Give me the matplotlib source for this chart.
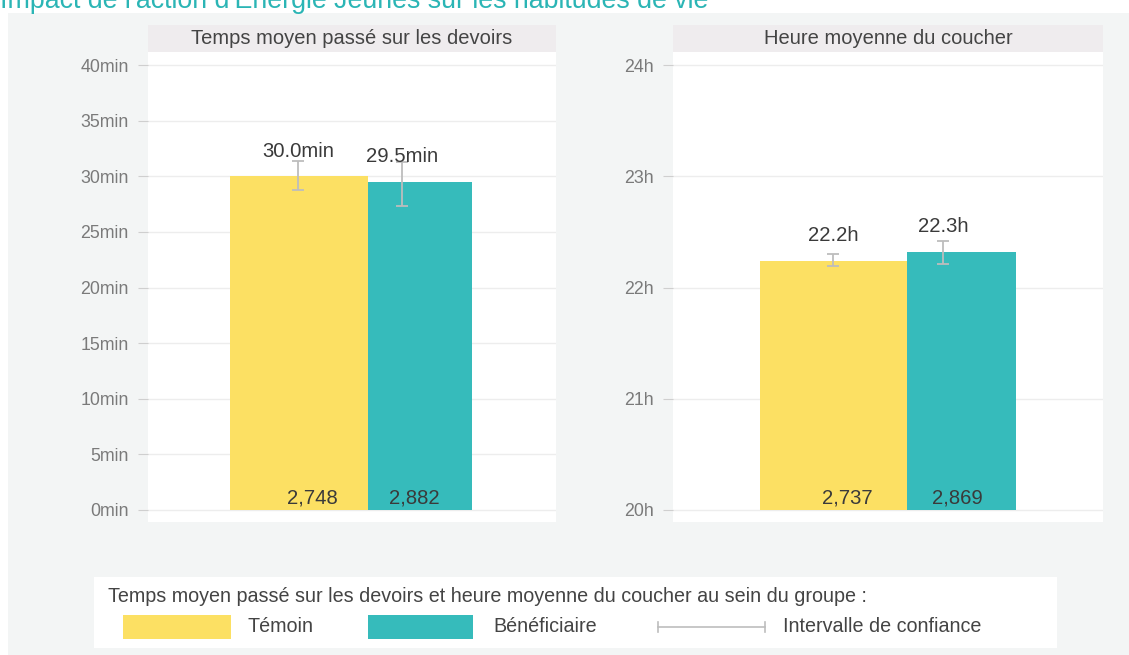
import matplotlib
matplotlib.use("Agg")
import matplotlib.pyplot as plt
from matplotlib.patches import Rectangle
from matplotlib.lines import Line2D

plt.rcParams['font.family'] = ['Liberation Sans', 'DejaVu Sans']

# ---------------- data ----------------
groups = ["Témoin", "Bénéficiaire"]
homework_mean = [30.0, 29.5]          # minutes
homework_ci_low = [28.8, 27.3]
homework_ci_high = [31.4, 31.3]
homework_n = ["2,748", "2,882"]
homework_ticks = [0, 5, 10, 15, 20, 25, 30, 35, 40]
homework_ticklabels = ["0min", "5min", "10min", "15min", "20min", "25min", "30min", "35min", "40min"]

bedtime_mean = [22.24, 22.32]         # hours
bedtime_ci_low = [22.19, 22.21]
bedtime_ci_high = [22.30, 22.42]
bedtime_n = ["2,737", "2,869"]
bedtime_ticks = [20, 21, 22, 23, 24]
bedtime_ticklabels = ["20h", "21h", "22h", "23h", "24h"]

panel_titles = ["Temps moyen passé sur les devoirs", "Heure moyenne du coucher"]
main_title = "Impact de l'action d'Energie Jeunes sur les habitudes de vie"
legend_title = "Temps moyen passé sur les devoirs et heure moyenne du coucher au sein du groupe :"
ci_label = "Intervalle de confiance"

# ---------------- style ----------------
W, H = 1129, 655
YELLOW = "#FCE063"
TEAL = "#36BBBB"
BG = "#F3F5F5"
STRIP = "#EFECEE"
GRID = "#EDEDED"
ERR = "#BDBDBD"
TICKC = "#7A7A7A"
TXT = "#3A3A3A"

fig = plt.figure(figsize=(W / 100, H / 100), dpi=100)
fig.patch.set_facecolor("white")


def px_rect(x0, y0, x1, y1):
    """pixel box (top-left origin) -> figure fraction [l, b, w, h]"""
    return [x0 / W, 1 - y1 / H, (x1 - x0) / W, (y1 - y0) / H]


def fx(x):
    return x / W


def fy(y):
    return 1 - y / H


# outer grey panel
fig.add_artist(Rectangle((fx(8), 0), 1 - fx(8), fy(13), transform=fig.transFigure,
                         facecolor=BG, edgecolor="none", zorder=-10))

# main title (cut off at the top, as in the reference)
fig.text(fx(0), fy(8), main_title, color="#2BB5B5", fontsize=19.3,
         ha="left", va="baseline")


def make_panel(box, ylim, ticks, ticklabels, means, lo, hi, counts, fmt,
               bar_edges, err_x, count_x, title, strip_top):
    x0, y0, x1, y1 = box
    ax = fig.add_axes(px_rect(x0, y0, x1, y1))
    ax.set_facecolor("white")
    ax.set_xlim(0, x1 - x0)
    ax.set_ylim(*ylim)
    for s in ax.spines.values():
        s.set_visible(False)
    ax.set_xticks([])
    ax.set_yticks(ticks)
    ax.set_yticklabels(ticklabels)
    ax.tick_params(axis="y", length=7, width=0.8, color="#CFCFCF", pad=7,
                   labelsize=12.8, labelcolor=TICKC)
    ax.yaxis.grid(True, color=GRID, linewidth=1)
    ax.set_axisbelow(True)
    base = ticks[0]
    colors = [YELLOW, TEAL]
    for i in range(2):
        l, r = bar_edges[i]
        ax.bar(l, means[i] - base, width=r - l, bottom=base, align="edge",
               color=colors[i], edgecolor="none", zorder=2)
        ax.errorbar(err_x[i], means[i],
                    yerr=[[means[i] - lo[i]], [hi[i] - means[i]]],
                    fmt="none", ecolor=ERR, elinewidth=1.3, capsize=4,
                    capthick=1.3, zorder=4)
        ax.annotate(fmt(means[i]), xy=(err_x[i], means[i]), xytext=(0, 14),
                    textcoords="offset points", ha="center", va="baseline",
                    fontsize=14.6, color=TXT, zorder=5)
        ax.annotate(counts[i], xy=(count_x[i], base), xytext=(0, 1.5),
                    textcoords="offset points", ha="center", va="bottom",
                    fontsize=14.6, color=TXT, zorder=5)
    # title strip
    fig.add_artist(Rectangle((fx(x0), fy(y0)), fx(x1) - fx(x0), fy(strip_top) - fy(y0),
                             transform=fig.transFigure, facecolor=STRIP,
                             edgecolor="none"))
    fig.text((fx(x0) + fx(x1)) / 2, (fy(strip_top) + fy(y0)) / 2, title,
             ha="center", va="center", fontsize=14.5, color="#444444")
    return ax


# left panel: 0 -> y=510px and 40 -> y=65px, axes spans 52..522 px
k1 = (510 - 65) / 40.0
make_panel((148, 52, 556, 522),
           (-(522 - 510) / k1, 40 + (65 - 52) / k1),
           homework_ticks, homework_ticklabels,
           homework_mean, homework_ci_low, homework_ci_high, homework_n,
           lambda v: f"{v:.1f}min",
           [(230 - 148, 368 - 148), (368 - 148, 472 - 148)],
           [298 - 148, 402 - 148], [312 - 148, 414 - 148],
           panel_titles[0], 25)

k2 = (510 - 65) / 4.0
make_panel((673, 52, 1103, 522),
           (20 - (522 - 510) / k2, 24 + (65 - 52) / k2),
           bedtime_ticks, bedtime_ticklabels,
           bedtime_mean, bedtime_ci_low, bedtime_ci_high, bedtime_n,
           lambda v: f"{v:.1f}h",
           [(760 - 673, 907 - 673), (907 - 673, 1016 - 673)],
           [833 - 673, 943 - 673], [847 - 673, 957 - 673],
           panel_titles[1], 25)

# legend box
fig.add_artist(Rectangle((fx(94), fy(648)), fx(1057) - fx(94), fy(577) - fy(648),
                         transform=fig.transFigure, facecolor="white",
                         edgecolor="none"))
fig.text(fx(108), fy(597), legend_title, ha="left", va="center",
         fontsize=14.2, color="#444444")
for (xa, xb), col, lab, tx in [((123, 231), YELLOW, groups[0], 248),
                               ((368, 473), TEAL, groups[1], 493)]:
    fig.add_artist(Rectangle((fx(xa), fy(639)), fx(xb) - fx(xa), fy(615) - fy(639),
                             transform=fig.transFigure, facecolor=col,
                             edgecolor="none"))
    fig.text(fx(tx), fy(627), lab, ha="left", va="center", fontsize=14.2,
             color="#444444")
fig.add_artist(Line2D([fx(658), fx(765)], [fy(627), fy(627)],
                      transform=fig.transFigure, color=ERR, linewidth=1.2))
for xx in (658, 765):
    fig.add_artist(Line2D([fx(xx), fx(xx)], [fy(622), fy(632)],
                          transform=fig.transFigure, color=ERR, linewidth=1.2))
fig.text(fx(783), fy(627), ci_label, ha="left", va="center", fontsize=14.2,
         color="#444444")

fig.savefig("out.png", dpi=100, facecolor=fig.get_facecolor())
